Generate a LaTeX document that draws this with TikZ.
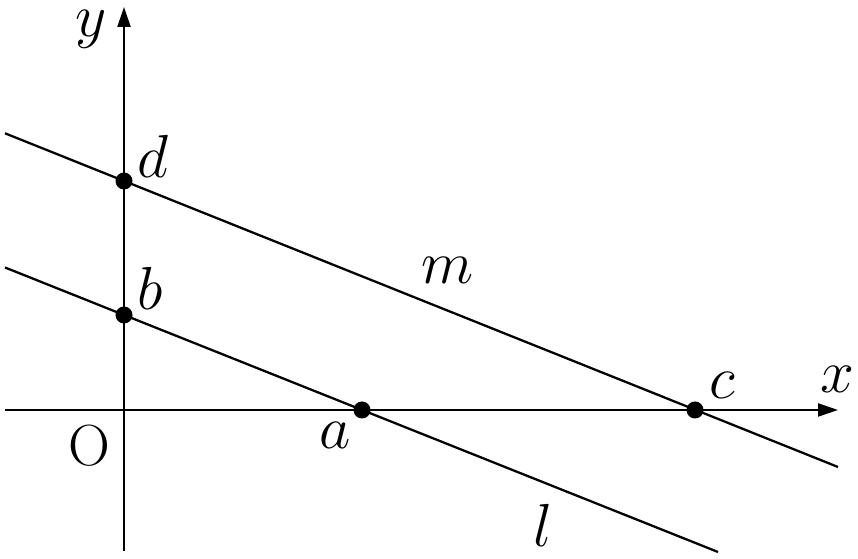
\documentclass[tikz,border=0pt]{standalone}
\usetikzlibrary{arrows.meta}
\begin{document}
\begin{tikzpicture}[x=0.01cm,y=-0.01cm,
  ln/.style={line width=0.65pt},
  ax/.style={line width=0.65pt,-{Triangle[length=0.2cm,width=0.13cm]}},
  pt/.style={circle,fill=black,inner sep=0pt,minimum size=0.17cm},
  lab/.style={font=\fontsize{16.5}{19}\selectfont,inner sep=0pt}]
\useasboundingbox (0,0) rectangle (858,559);
% axis end points
\coordinate (xl) at (5,410);
\coordinate (xr) at (838,410);
\coordinate (yb) at (124,551);
\coordinate (yt) at (124,7);
\draw[ax] (xl) -- (xr);
\draw[ax] (yb) -- (yt);
% line ends
\coordinate (l1) at (5,267.5);
\coordinate (l2) at (718,552);
\coordinate (m1) at (5,133.3);
\coordinate (m2) at (838,467);
\draw[ln] (l1) -- (l2);
\draw[ln] (m1) -- (m2);
% points
\node[pt] (d) at (124,181) {};
\node[pt] (b) at (124,315) {};
\node[pt] (a) at (362,410) {};
\node[pt] (c) at (695,410) {};
% labels
\node[lab] (ly) at (91,29) {$y$};
\node[lab] (lx) at (837,379) {$x$};
\node[lab] (lO) at (89,446) {O};
\node[lab] (ld) at (153,156) {$d$};
\node[lab] (lb) at (150,288) {$b$};
\node[lab] (lm) at (448,270) {$m$};
\node[lab] (lc) at (722,385) {$c$};
\node[lab] (la) at (335,435) {$a$};
\node[lab] (ll) at (543,525) {$l$};
\end{tikzpicture}
\end{document}
